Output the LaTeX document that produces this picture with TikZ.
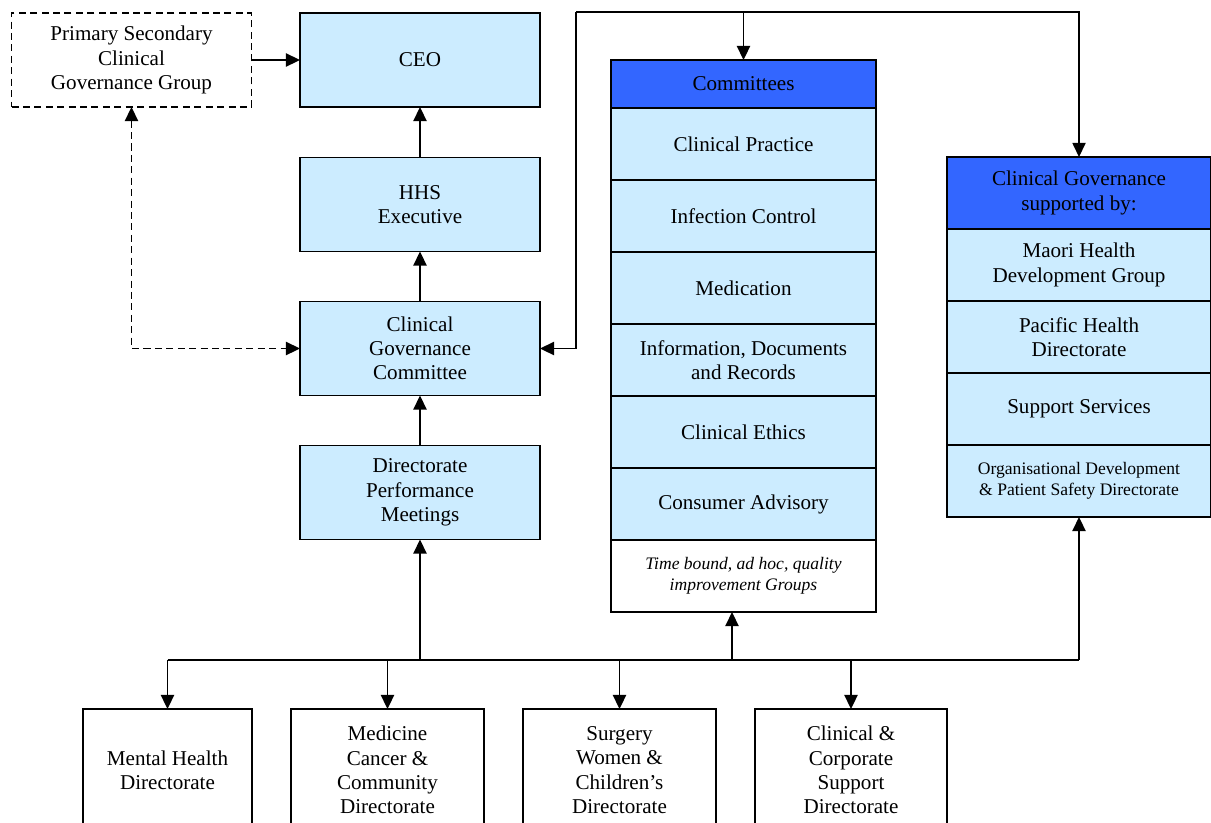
\documentclass[tikz,border=0pt]{standalone}
\usepackage{fontspec}
\setmainfont{Liberation Serif}
\usetikzlibrary{arrows.meta,positioning}
\definecolor{paleblue}{HTML}{CCECFF}
\definecolor{headblue}{HTML}{3366FF}

\begin{document}
\begin{tikzpicture}[
    font = \fontsize{12}{13.8}\selectfont,
    box/.style = {draw, line width = 1.1pt, fill = paleblue, align = center,
      minimum width = 4.8cm, minimum height = 1.88cm, inner sep = 0pt, outer sep = 0pt},
    cmbox/.style = {draw, line width = 1.1pt, fill = paleblue, align = center,
      minimum width = 5.3cm, minimum height = 1.44cm, inner sep = 0pt, outer sep = 0pt},
    cmrow/.style = {cmbox, below = 0pt of #1},
    cgrow/.style = {cmrow = #1, minimum width = 5.28cm},
    dirbox/.style = {draw, line width = 1.1pt, fill = white, align = center, anchor = north,
      minimum height = 2.44cm, inner sep = 0pt, outer sep = 0pt},
    tip/.tip = {Triangle[length = 8pt, width = 7.5pt]},
    arr/.style = {line width = 1pt, -tip},
    dashline/.style = {dash pattern = on 4pt off 2.5pt},
    small/.style = {font = \fontsize{10}{11.8}\selectfont}
  ]
  \useasboundingbox (0,0) rectangle (24.22,-16.44);

  % left column
  \node [box, fill = white, dashline] (pscg) at (2.63,-1.2)
    {Primary Secondary\\Clinical\\Governance Group};
  \node [box] (ceo) at (8.4,-1.2) {CEO};
  \node [box] (hhs) at (8.4,-4.09) {HHS\\Executive};
  \node [box] (cgc) at (8.4,-6.97) {Clinical\\Governance\\Committee};
  \node [box] (dpm) at (8.4,-9.85) {Directorate\\Performance\\Meetings};

  % committees
  \node [cmbox, fill = headblue, minimum height = .96cm] (cmhead) at (14.87,-1.68) {Committees};
  \node [cmrow = cmhead] (cp) {Clinical Practice};
  \node [cmrow = cp] (ic) {Infection Control};
  \node [cmrow = ic] (med) {Medication};
  \node [cmrow = med] (idr) {Information, Documents\\and Records};
  \node [cmrow = idr] (ce) {Clinical Ethics};
  \node [cmrow = ce] (ca) {Consumer Advisory};
  \node [cmrow = ca, fill = white, font = \fontsize{10}{11.8}\selectfont\itshape] (tb)
    {Time bound, ad hoc, quality\\improvement Groups};

  % clinical governance support
  \node [cmbox, minimum width = 5.28cm, fill = headblue] (cghead) at (21.58,-3.86) {Clinical Governance\\supported by:};
  \node [cgrow = cghead] (mhdg) {Maori Health\\Development Group};
  \node [cgrow = mhdg] (phd) {Pacific Health\\Directorate};
  \node [cgrow = phd] (ss) {Support Services};
  \node [cgrow = ss, small] (od) {Organisational Development\\\& Patient Safety Directorate};

  % directorates
  \node [dirbox, minimum width = 3.38cm] (mh) at (3.35,-14.18) {Mental Health\\Directorate};
  \node [dirbox, minimum width = 3.86cm] (mcc) at (7.75,-14.18) {Medicine\\Cancer \&\\Community\\Directorate};
  \node [dirbox, minimum width = 3.86cm] (swc) at (12.39,-14.18) {Surgery\\Women \&\\Children’s\\Directorate};
  \node [dirbox, minimum width = 3.84cm] (ccs) at (17.02,-14.18) {Clinical \&\\Corporate\\Support\\Directorate};

  % connectors
  \draw [arr] (pscg) -- (ceo);
  \draw [arr] (hhs) -- (ceo);
  \draw [arr] (cgc) -- (hhs);
  \draw [arr] (dpm) -- (cgc);
  \draw [line width = 1pt, tip-tip, dashline] (pscg.south) |- (cgc.west);

  \coordinate (top) at (11.52,-.24);
  \draw [arr] (top) |- (cgc.east);
  \draw [arr, line width = .7pt] (top) -| (cghead.north);
  \draw [arr] (cmhead.north |- top) -- (cmhead.north);

  \coordinate (bus) at (8.4,-13.2);
  \draw [line width = 1pt] (mh.north |- bus) -- (od.south |- bus);
  \draw [arr] (bus) -- (dpm);
  \draw [arr] ([xshift = -.23cm]tb.south |- bus) -- ([xshift = -.23cm]tb.south);
  \draw [arr] (od.south |- bus) -- (od);
  \foreach \d in {mh, mcc, swc, ccs}
    \draw [arr] (\d.north |- bus) -- (\d);
\end{tikzpicture}
\end{document}
